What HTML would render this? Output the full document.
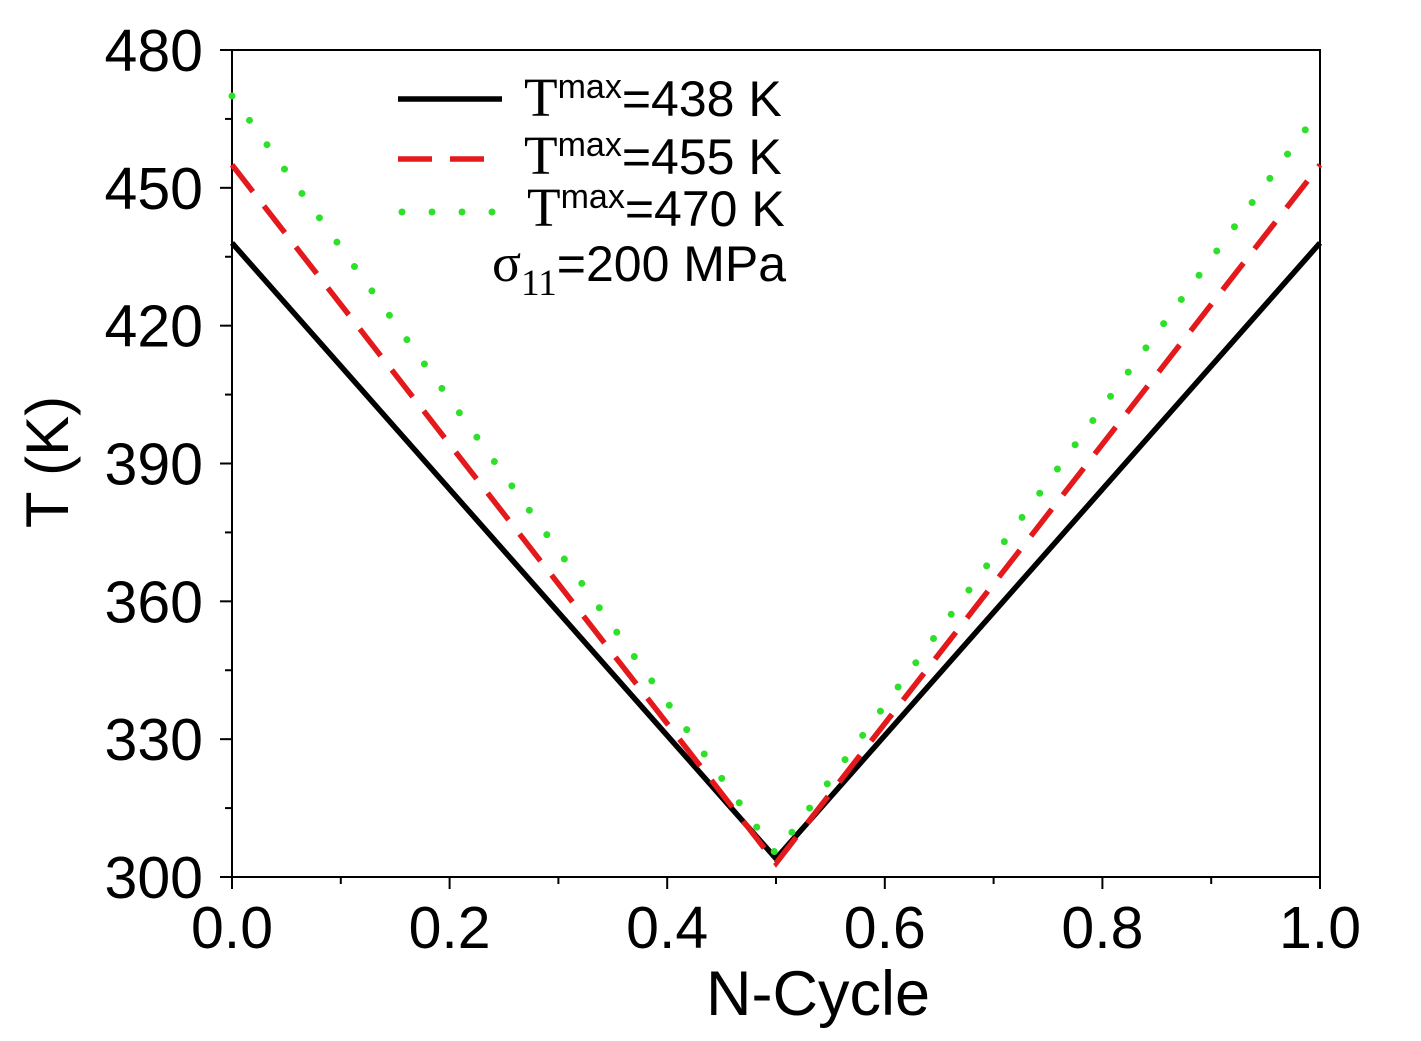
<!DOCTYPE html>
<html><head><meta charset="utf-8"><style>
html,body{margin:0;padding:0;background:#fff;}
svg{display:block;font-family:"Liberation Sans",sans-serif;}
</style></head><body>
<svg id="chart" width="1421" height="1041" viewBox="0 0 1421 1041" xmlns="http://www.w3.org/2000/svg">
<g id="axes"></g>
<g id="series"></g>
<g id="legend">
  <line x1="398" y1="99" x2="502" y2="99" stroke="#000" stroke-width="5.5"/>
  <text x="524" y="116" font-size="50"><tspan font-family="Liberation Serif,serif" font-size="55">T</tspan><tspan dy="-18" font-size="34">max</tspan><tspan dy="18">=438 K</tspan></text>
  <line x1="398" y1="159" x2="502" y2="159" stroke="#e3191c" stroke-width="5.5" stroke-dasharray="34,18"/>
  <text x="524" y="174" font-size="50"><tspan font-family="Liberation Serif,serif" font-size="55">T</tspan><tspan dy="-18" font-size="34">max</tspan><tspan dy="18">=455 K</tspan></text>
  <line x1="402" y1="212" x2="502" y2="212" stroke="#2fe02a" stroke-width="7" stroke-linecap="round" stroke-dasharray="0,30"/>
  <text x="527" y="226" font-size="50"><tspan font-family="Liberation Serif,serif" font-size="55">T</tspan><tspan dy="-18" font-size="34">max</tspan><tspan dy="18">=470 K</tspan></text>
  <text x="492" y="281" font-size="50"><tspan font-family="Liberation Serif,serif" font-size="54">σ</tspan><tspan dy="14" font-family="Liberation Serif,serif" font-size="37">11</tspan><tspan dy="-14">=200 MPa</tspan></text>
</g>
<text x="818" y="1015" font-size="63" text-anchor="middle">N-Cycle</text>
<text transform="translate(68,462) rotate(-90)" font-size="60" text-anchor="middle">T (K)</text>
</svg>
<script>
const xTicks = [0.0, 0.2, 0.4, 0.6, 0.8, 1.0];
const xTickLabels = ["0.0", "0.2", "0.4", "0.6", "0.8", "1.0"];
const yTicks = [300, 330, 360, 390, 420, 450, 480];
const yTickLabels = ["300", "330", "360", "390", "420", "450", "480"];
const cycleX = [0, 0.5, 1];
const series438 = [438, 304, 438];
const series455 = [455, 303, 455];
const series470 = [470, 305, 467];

const L = 232, R = 1320, T = 50, B = 877;
const xMin = 0, xMax = 1, yMin = 300, yMax = 480;
function sx(v){ return L + (v - xMin) / (xMax - xMin) * (R - L); }
function sy(v){ return B - (v - yMin) / (yMax - yMin) * (B - T); }
const NS = "http://www.w3.org/2000/svg";
function mk(tag, attrs, parent){ const e = document.createElementNS(NS, tag); for (const k in attrs) e.setAttribute(k, attrs[k]); parent.appendChild(e); return e; }

const axes = document.getElementById('axes');
const frame = mk('rect', {x:L, y:T, width:R-L, height:B-T, fill:'none', stroke:'#000', 'stroke-width':2}, axes);



for (let v = xMin; v <= xMax + 1e-9; v += 0.1) {
  const major = Math.abs(Math.round(v * 5) - v * 5) < 1e-6;
  const t = mk('line', {x1:sx(v), y1:B, x2:sx(v), y2:B + (major ? 12 : 7), stroke:'#000', 'stroke-width':2}, axes);
  
  
}
xTicks.forEach((v, i) => {
  const t = mk('text', {x:sx(v), y:948, 'font-size':59, 'text-anchor':'middle'}, axes);
  t.textContent = xTickLabels[i];
  
  
});
for (let v = yMin; v <= yMax; v += 15) {
  const major = (v - yMin) % 30 === 0;
  const t = mk('line', {x1:L - (major ? 12 : 7), y1:sy(v), x2:L, y2:sy(v), stroke:'#000', 'stroke-width':2}, axes);
  
  
}
yTicks.forEach((v, i) => {
  const t = mk('text', {x:203, y:sy(v) + 21, 'font-size':59, 'text-anchor':'end'}, axes);
  t.textContent = yTickLabels[i];
  
  
});

const ser = document.getElementById('series');
function pts(arr){ return arr.map((v, i) => sx(cycleX[i]) + ',' + sy(v)).join(' '); }
const l1 = mk('polyline', {points:pts(series438), fill:'none', stroke:'#000', 'stroke-width':5.5}, ser);


const l2 = mk('polyline', {points:pts(series455), fill:'none', stroke:'#e3191c', 'stroke-width':5.5, 'stroke-dasharray':'34,18'}, ser);


const l3 = mk('polyline', {points:pts(series470), fill:'none', stroke:'#2fe02a', 'stroke-width':7, 'stroke-linecap':'round', 'stroke-dasharray':'0,30'}, ser);


</script>
</body></html>
